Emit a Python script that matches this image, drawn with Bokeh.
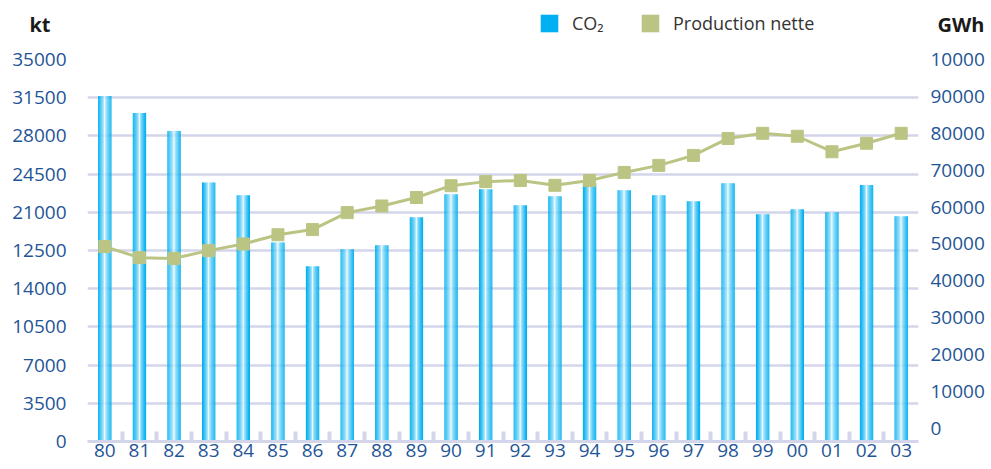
from bokeh.plotting import figure
from bokeh.layouts import column
from bokeh.models import (ColumnDataSource, Range1d, LinearAxis, FixedTicker,
                          Legend, LegendItem, Grid)
from bokeh.transform import dodge
from bokeh.embed import file_html
from bokeh.resources import INLINE

# ---------------- data ----------------
years = ["80", "81", "82", "83", "84", "85", "86", "87", "88", "89", "90", "91",
         "92", "93", "94", "95", "96", "97", "98", "99", "00", "01", "02", "03"]
co2_kt = [31650, 30100, 28440, 23730, 22570, 18230, 16050, 17620, 17980, 20550,
          22660, 23120, 21650, 22480, 23670, 23030, 22570, 22020, 23670, 20830,
          21280, 21010, 23490, 20640]
production_gwh = [49300, 46300, 46100, 48200, 50000, 52500, 53900, 58500, 60300,
                  62600, 65800, 66900, 67200, 65900, 67200, 69400, 71300, 74000,
                  78600, 80000, 79200, 75000, 77300, 80000]
left_ticks = [0, 3500, 7000, 10500, 14000, 17500, 21000, 24500, 28000, 31500, 35000]
left_tick_labels = ["0", "3500", "7000", "10500", "14000", "12500", "21000",
                    "24500", "28000", "31500", "35000"]
right_ticks = [0, 10000, 20000, 30000, 40000, 50000, 60000, 70000, 80000, 90000, 100000]
right_tick_labels = ["0", "10000", "20000", "30000", "40000", "50000", "60000",
                     "70000", "80000", "90000", "10000"]
series_names = ["CO₂", "Production nette"]
unit_left = "kt"
unit_right = "GWh"

# ---------------- style ----------------
FONT = "Open Sans"
TICK_COLOR = "#1f5596"
GRID_COLOR = "#d3d5ea"
CYAN = (0, 176, 240)
LIGHT = (240, 250, 254)
CYAN_HEX = "#00b0f0"
GREEN = "#bcc483"
UNIT_Y = 21  # header row position of the unit titles

xs = list(range(len(years)))
src = ColumnDataSource(dict(x=xs, co2=co2_kt, prod=production_gwh))

# ---------------- header (units + legend) ----------------
head = figure(width=991, height=45, x_range=Range1d(0, 1), y_range=Range1d(0, 45),
              x_axis_type=None, y_axis_type=None, output_backend="svg",
              toolbar_location=None, min_border=0, outline_line_color=None,
              background_fill_color="white", border_fill_color="white")
# zero-height stand-ins that only give the legend its colour swatches
proxy_co2 = head.vbar(x="x", top=0, bottom=0, width=0.01, source=src,
                      fill_color=CYAN_HEX, line_color=None)
proxy_prod = head.vbar(x="x", top=0, bottom=0, width=0.01, source=src,
                       fill_color=GREEN, line_color=None)
legend = Legend(items=[LegendItem(label=series_names[0], renderers=[proxy_co2]),
                       LegendItem(label=series_names[1], renderers=[proxy_prod])],
                location=(451, 10), orientation="horizontal",
                glyph_width=22, glyph_height=22, label_standoff=12,
                label_width=67, label_height=22, spacing=0, padding=0, margin=0,
                border_line_color=None, background_fill_alpha=0,
                label_text_font=FONT, label_text_font_size="18px",
                label_text_color="#333333")
head.add_layout(legend)

unit_axes = [
    (LinearAxis(ticker=FixedTicker(ticks=[UNIT_Y], minor_ticks=[]),
                major_label_overrides={UNIT_Y: unit_left}), "left", 37),
    (LinearAxis(ticker=FixedTicker(ticks=[UNIT_Y], minor_ticks=[]),
                major_label_overrides={UNIT_Y: unit_right}), "right", 19),
]
for ax, side, so in unit_axes:
    ax.axis_line_color = None
    ax.major_tick_line_color = None
    ax.minor_tick_line_color = None
    ax.major_tick_in = 0
    ax.major_tick_out = 0
    ax.major_label_standoff = so
    ax.major_label_text_font = FONT
    ax.major_label_text_font_style = "bold"
    ax.major_label_text_font_size = "20px"
    ax.major_label_text_color = "#1a1a1a"
    head.add_layout(ax, side)

# ---------------- main chart ----------------
p = figure(frame_width=831, frame_height=382,
           x_range=Range1d(-0.5, len(years) - 0.5),
           y_range=Range1d(0, 35000),
           x_axis_type=None, y_axis_type=None,
           output_backend="svg", toolbar_location=None,
           min_border_left=87, min_border_right=73, min_border_top=14,
           min_border_bottom=28, outline_line_color=None,
           background_fill_color="white", border_fill_color="white")
p.extra_y_ranges = {"gwh": Range1d(-3530, 100000)}

p.add_layout(Grid(dimension=1, ticker=FixedTicker(ticks=left_ticks),
                  grid_line_color=GRID_COLOR, grid_line_width=2.5))

# bars with a horizontal gradient (cyan edge -> light centre -> cyan edge)
bar_w = 0.385
n_strips = 13
half = (n_strips - 1) / 2
strip_w = bar_w / n_strips
for i in range(n_strips):
    t = (abs(i - half) / half) ** 0.65
    col = tuple(int(round(LIGHT[k] + (CYAN[k] - LIGHT[k]) * t)) for k in range(3))
    p.vbar(x=dodge("x", (i - half) * strip_w), top="co2", bottom=0,
           width=strip_w * 1.08, source=src, fill_color="#%02x%02x%02x" % col,
           line_color=None)

# production line with square markers
p.line("x", "prod", source=src, y_range_name="gwh", line_color=GREEN, line_width=3)
p.scatter("x", "prod", source=src, y_range_name="gwh", marker="square",
          size=12, fill_color=GREEN, line_color=GREEN)

# y axes
left_axis = LinearAxis(ticker=FixedTicker(ticks=left_ticks),
                       major_label_overrides=dict(zip(left_ticks, left_tick_labels)))
right_axis = LinearAxis(y_range_name="gwh", ticker=FixedTicker(ticks=right_ticks),
                        major_label_overrides=dict(zip(right_ticks, right_tick_labels)))
for ax, so in ((left_axis, 21), (right_axis, 12)):
    ax.axis_line_color = None
    ax.major_tick_line_color = None
    ax.minor_tick_line_color = None
    ax.major_tick_in = 0
    ax.major_tick_out = 0
    ax.minor_tick_in = 0
    ax.minor_tick_out = 0
    ax.major_label_standoff = so
    ax.major_label_text_font = FONT
    ax.major_label_text_font_size = "19px"
    ax.major_label_text_color = TICK_COLOR
p.add_layout(left_axis, "left")
p.add_layout(right_axis, "right")

# x axis: labels at category centres, small separators between categories
sep_ticks = [i + 0.5 for i in range(len(years) - 1)]
x_axis = LinearAxis(ticker=FixedTicker(ticks=xs, minor_ticks=sep_ticks),
                    major_label_overrides=dict(zip(xs, years)),
                    axis_line_color=GRID_COLOR, axis_line_width=3,
                    major_tick_line_color=None, major_tick_in=0, major_tick_out=0,
                    minor_tick_line_color=GRID_COLOR, minor_tick_line_width=4,
                    minor_tick_in=10, minor_tick_out=0,
                    major_label_standoff=2,
                    major_label_text_font=FONT, major_label_text_font_size="19px",
                    major_label_text_color=TICK_COLOR)
p.add_layout(x_axis, "below")

layout = column(head, p, spacing=0)
open("out.html", "w").write(file_html(layout, INLINE))
